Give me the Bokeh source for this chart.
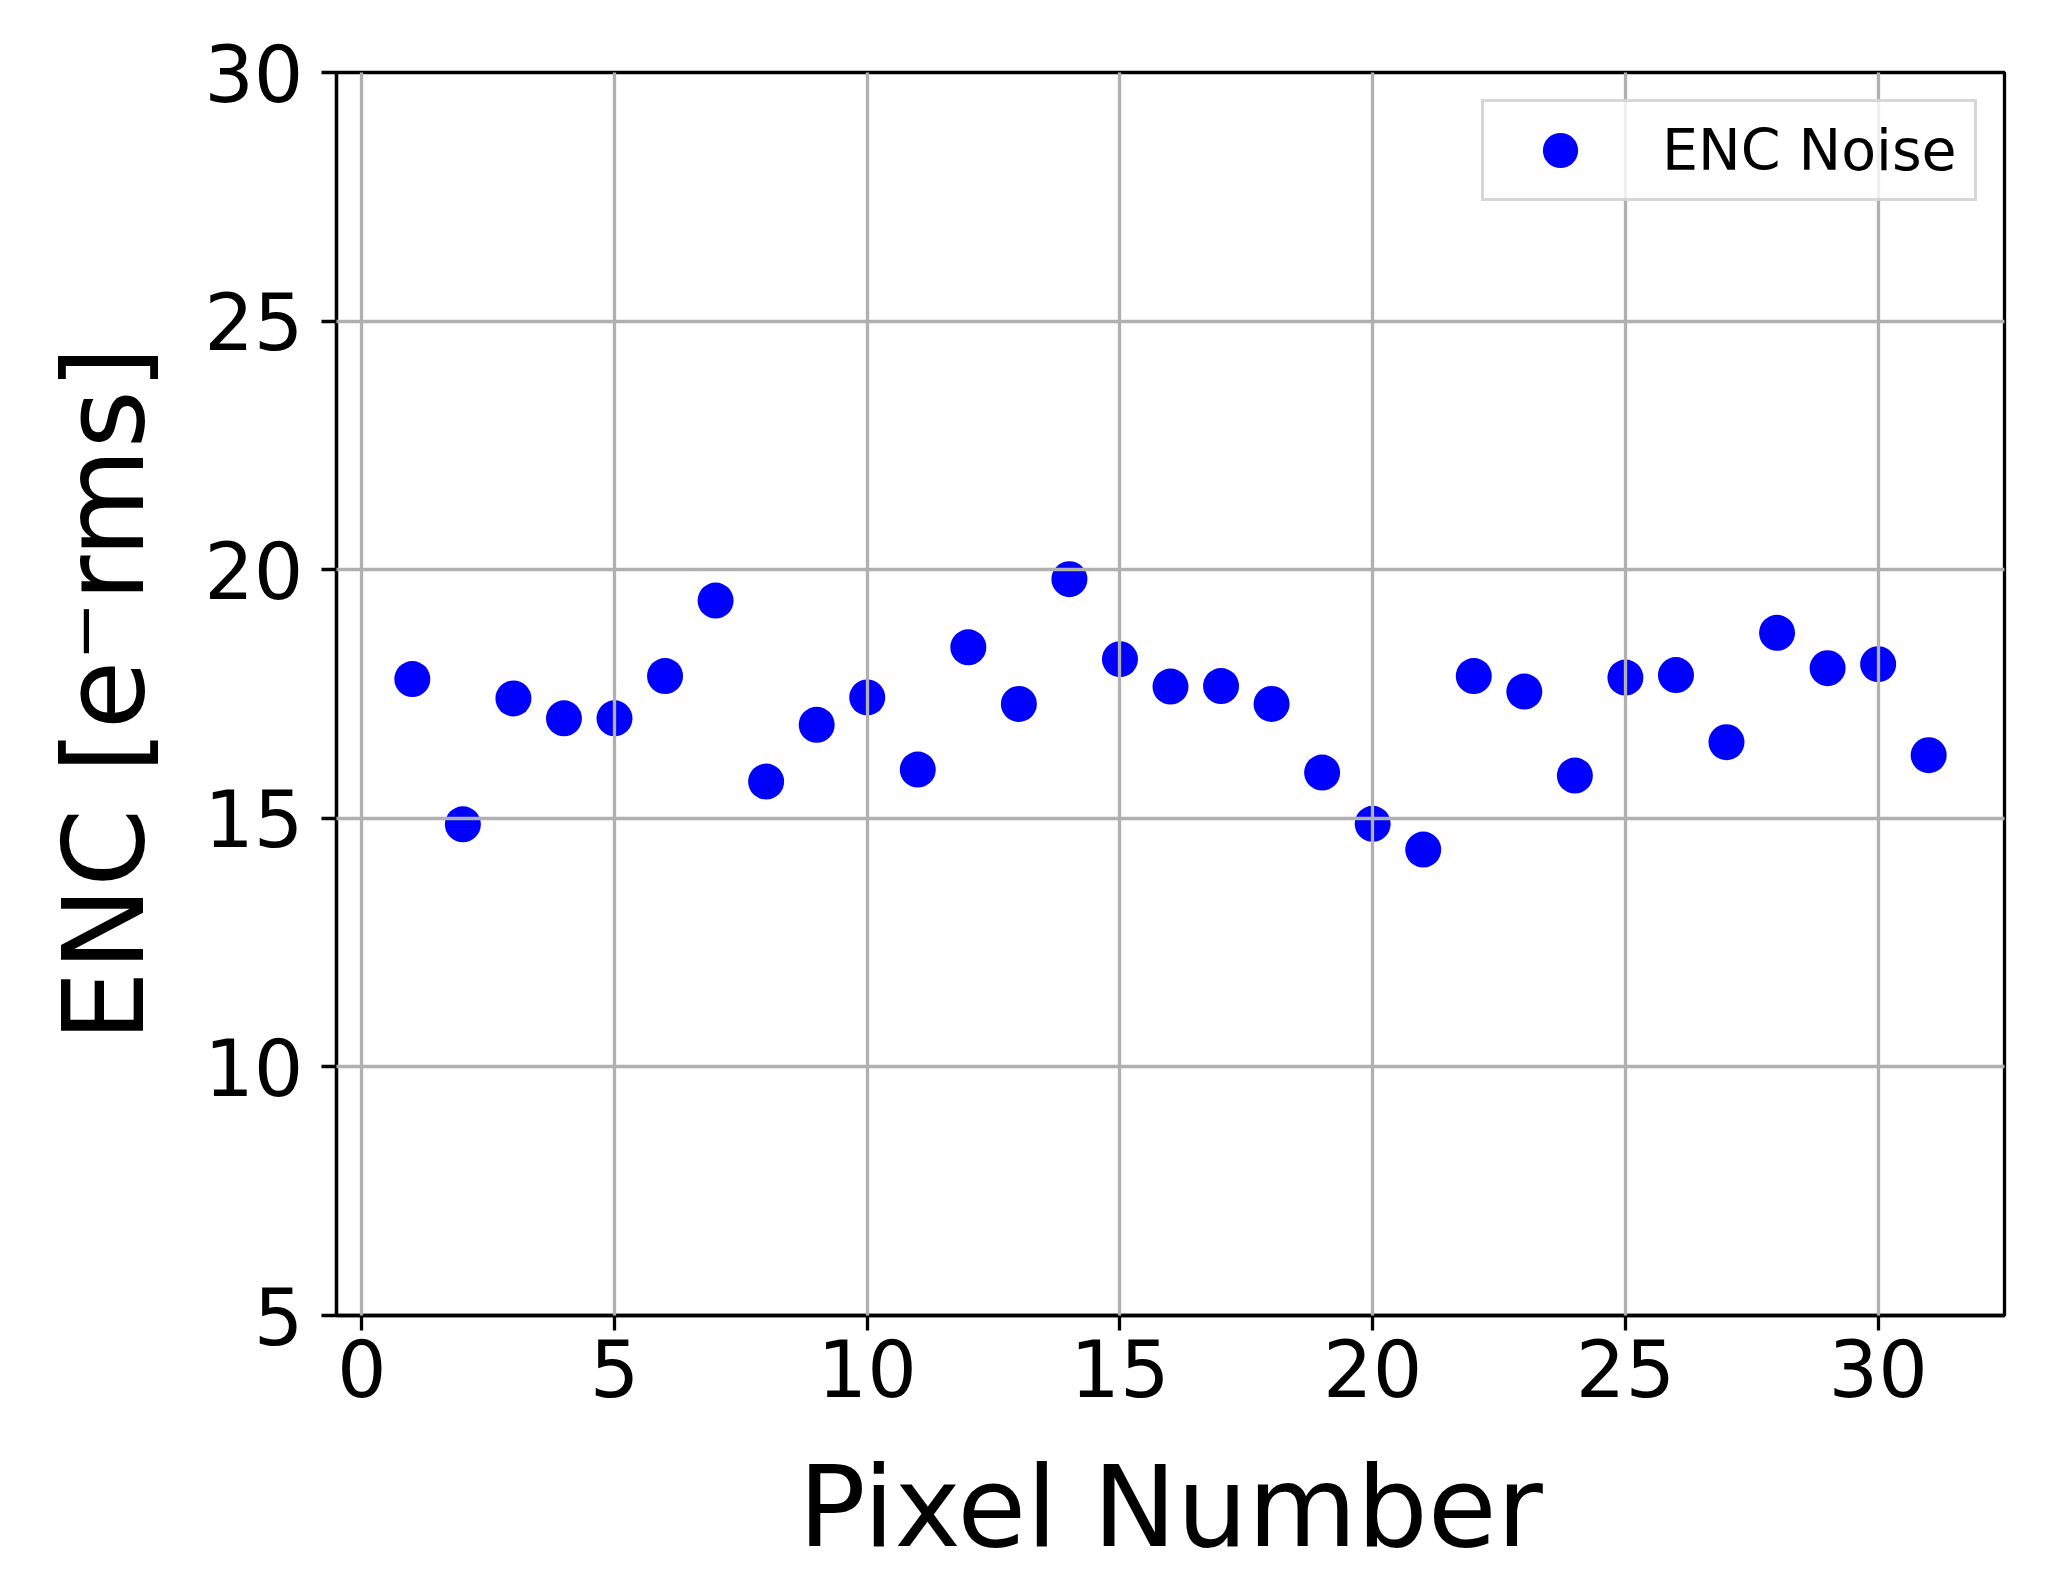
from bokeh.plotting import figure
from bokeh.models import FixedTicker, Range1d
from bokeh.embed import file_html
from bokeh.resources import INLINE

pixel = list(range(1, 32))
enc_noise = [17.80, 14.88, 17.41, 17.01, 17.01, 17.86, 19.38, 15.74, 16.88, 17.43,
             15.98, 18.44, 17.30, 19.81, 18.20, 17.65, 17.66, 17.30, 15.92, 14.89,
             14.37, 17.86, 17.55, 15.86, 17.83, 17.88, 16.53, 18.73, 18.02, 18.10,
             16.27]
x_ticks = [0, 5, 10, 15, 20, 25, 30]
y_ticks = [5, 10, 15, 20, 25, 30]

FONT = "DejaVu Sans"

p = figure(
    output_backend="svg", toolbar_location=None,
    frame_width=1668, frame_height=1243,
    min_border_left=336, min_border_right=40, min_border_top=72, min_border_bottom=257,
    x_range=Range1d(-0.5, 32.5), y_range=Range1d(5, 30),
)
p.background_fill_color = "white"
p.border_fill_color = "white"
p.outline_line_color = "black"
p.outline_line_width = 3.3

p.scatter(pixel, enc_noise, size=36, color="#0000ff", line_color=None, legend_label="ENC Noise")

for ax in (p.xaxis[0], p.yaxis[0]):
    ax.axis_line_width = 3.3
    ax.axis_line_color = "black"
    ax.major_tick_line_width = 3.3
    ax.major_tick_out = 15
    ax.major_tick_in = 0
    ax.minor_tick_out = 0
    ax.minor_tick_in = 0
    ax.major_label_text_font = FONT
    ax.major_label_text_font_size = "78px"
    ax.major_label_text_color = "black"
    ax.axis_label_text_font = FONT
    ax.axis_label_text_font_size = "112px"
    ax.axis_label_text_font_style = "normal"
    ax.axis_label_text_color = "black"

p.xaxis.ticker = FixedTicker(ticks=x_ticks)
p.yaxis.ticker = FixedTicker(ticks=y_ticks)
p.xaxis.axis_label = "Pixel Number"
p.yaxis.axis_label = "ENC [e\u207brms]"
p.xaxis.major_label_standoff = 8
p.yaxis.major_label_standoff = 18
p.xaxis.axis_label_standoff = 42
p.yaxis.axis_label_standoff = 32

for g in (p.xgrid[0], p.ygrid[0]):
    g.grid_line_color = "#b0b0b0"
    g.grid_line_width = 3.3
    g.level = "guide"
p.xgrid.ticker = FixedTicker(ticks=x_ticks)
p.ygrid.ticker = FixedTicker(ticks=y_ticks)

lg = p.legend[0]
lg.location = "top_right"
lg.margin = 27
lg.padding = 4
lg.glyph_width = 144
lg.glyph_height = 88
lg.label_standoff = 30
lg.label_width = 308
lg.label_text_font = FONT
lg.label_text_font_size = "57px"
lg.label_text_color = "black"
lg.border_line_color = "#cccccc"
lg.border_line_width = 3
lg.border_line_alpha = 0.8
lg.background_fill_color = "white"
lg.background_fill_alpha = 0.8
lg.level = "overlay"

open("out.html", "w").write(file_html(p, INLINE))
